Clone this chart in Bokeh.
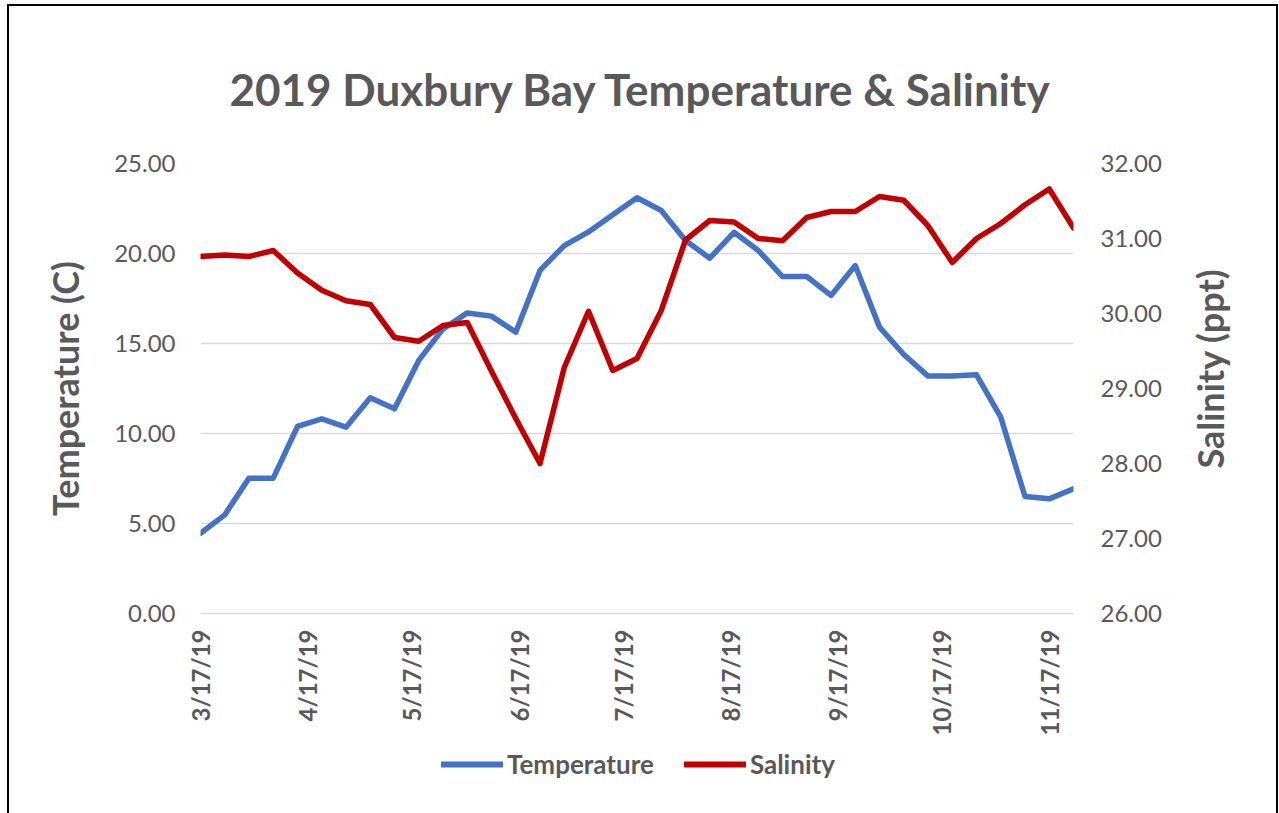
import math
import pandas as pd
from bokeh.plotting import figure
from bokeh.layouts import row, column
from bokeh.models import (LinearAxis, Range1d, FixedTicker, CustomJSTickFormatter,
                          NumeralTickFormatter, Legend, ColumnDataSource, Title)
from bokeh.embed import file_html
from bokeh.resources import INLINE

dates = ["2019-03-17", "2019-03-24", "2019-03-31", "2019-04-07", "2019-04-14", "2019-04-21",
         "2019-04-28", "2019-05-05", "2019-05-12", "2019-05-19", "2019-05-26", "2019-06-02",
         "2019-06-09", "2019-06-16", "2019-06-23", "2019-06-30", "2019-07-07", "2019-07-14",
         "2019-07-21", "2019-07-28", "2019-08-04", "2019-08-11", "2019-08-18", "2019-08-25",
         "2019-09-01", "2019-09-08", "2019-09-15", "2019-09-22", "2019-09-29", "2019-10-06",
         "2019-10-13", "2019-10-20", "2019-10-27", "2019-11-03", "2019-11-10", "2019-11-17",
         "2019-11-24"]

temperature = [4.46, 5.48, 7.52, 7.52, 10.39, 10.81, 10.35, 11.98, 11.37, 14.06, 15.81, 16.70,
               16.52, 15.63, 19.06, 20.44, 21.20, 22.15, 23.10, 22.39, 20.72, 19.74, 21.18, 20.17,
               18.72, 18.72, 17.67, 19.33, 15.91, 14.39, 13.19, 13.19, 13.26, 10.91, 6.50, 6.37,
               6.93]

salinity = [30.76, 30.78, 30.76, 30.84, 30.54, 30.31, 30.17, 30.12, 29.68, 29.63, 29.84, 29.88,
            29.23, 28.60, 28.00, 29.28, 30.03, 29.24, 29.40, 30.04, 30.98, 31.24, 31.22, 31.00,
            30.97, 31.28, 31.36, 31.36, 31.56, 31.51, 31.17, 30.68, 31.00, 31.20, 31.45, 31.66,
            31.14]

date_ticks = ["2019-03-17", "2019-04-17", "2019-05-17", "2019-06-17", "2019-07-17",
              "2019-08-17", "2019-09-17", "2019-10-17", "2019-11-17"]
temp_ticks = [0, 5, 10, 15, 20, 25]
sal_ticks = [26, 27, 28, 29, 30, 31, 32]

TEXT = "#595959"
FONT = "Lato"
BLUE = "#4472C4"
RED = "#C00000"

x = pd.to_datetime(dates)
src = ColumnDataSource(dict(x=x, t=temperature, s=salinity))

# ---------------- main chart ----------------
p = figure(width=1171, height=740, x_axis_type="datetime", output_backend="svg",
           toolbar_location=None,
           x_range=Range1d(x[0], x[-1]), y_range=Range1d(temp_ticks[0], temp_ticks[-1]),
           min_border_left=191, min_border_right=107, min_border_top=157,
           min_border_bottom=133)
p.extra_y_ranges = {"sal": Range1d(sal_ticks[0], sal_ticks[-1])}
p.outline_line_color = None
p.background_fill_color = "white"
p.border_fill_color = "white"

p.xgrid.visible = False
p.ygrid.grid_line_color = "#D9D9D9"
p.ygrid.grid_line_width = 1.5
p.ygrid.ticker = FixedTicker(ticks=temp_ticks)

p.title.text = "2019 Duxbury Bay Temperature & Salinity"
p.title.align = "left"
p.title.offset = 29
p.title.text_font = FONT
p.title.text_font_size = "44px"
p.title.text_font_style = "bold"
p.title.text_color = TEXT
p.title.standoff = 97

ya = p.yaxis[0]
ya.ticker = FixedTicker(ticks=temp_ticks)
ya.formatter = NumeralTickFormatter(format="0.00")
ya.axis_label = "Temperature (C)"

ra = LinearAxis(y_range_name="sal", ticker=FixedTicker(ticks=sal_ticks),
                formatter=NumeralTickFormatter(format="0.00"))
p.add_layout(ra, "right")

for ax in (ya, ra):
    ax.axis_line_color = None
    ax.major_tick_line_color = None
    ax.minor_tick_line_color = None
    ax.major_label_text_font = FONT
    ax.major_label_text_font_size = "24px"
    ax.major_label_text_color = TEXT
ya.major_label_standoff = 19
ra.major_label_standoff = 21
ya.axis_label_text_font = FONT
ya.axis_label_text_font_size = "36px"
ya.axis_label_text_font_style = "bold"
ya.axis_label_text_color = TEXT
ya.axis_label_standoff = 24

xa = p.xaxis[0]
xa.ticker = FixedTicker(ticks=[pd.Timestamp(d).value // 10**6 for d in date_ticks])
xa.formatter = CustomJSTickFormatter(code="""
const d = new Date(tick);
return (d.getUTCMonth() + 1) + '/' + d.getUTCDate() + '/' + String(d.getUTCFullYear()).slice(2);
""")
xa.major_label_orientation = math.pi / 2
xa.axis_line_color = "#D9D9D9"
xa.axis_line_width = 1.5
xa.major_tick_line_color = None
xa.minor_tick_line_color = None
xa.major_label_text_font = FONT
xa.major_label_text_font_size = "24px"
xa.major_label_text_font_style = "bold"
xa.major_label_text_color = TEXT
xa.major_label_standoff = 10

r1 = p.line("x", "t", source=src, line_color=BLUE, line_width=5.5,
            line_join="round", line_cap="round")
r2 = p.line("x", "s", source=src, y_range_name="sal", line_color=RED, line_width=5.5,
            line_join="round", line_cap="round")

# ---------------- right axis title (reads bottom to top) ----------------
rt = figure(width=96, height=740, output_backend="svg", toolbar_location=None,
            x_axis_location=None, y_axis_location=None,
            min_border_left=49, min_border_right=0, min_border_top=157,
            min_border_bottom=133)
rt.outline_line_color = None
rt.grid.visible = False
rt.border_fill_color = "white"
rt.background_fill_color = "white"
rt.add_layout(Title(text="Salinity (ppt)", align="left", offset=145, text_font=FONT,
                    text_font_size="36px", text_font_style="bold", text_color=TEXT,
                    standoff=10), "left")

# ---------------- legend strip ----------------
# the same series are attached here only to carry the legend swatches; the y range is
# set far away from the data so that nothing but the legend is visible in this strip
q = figure(width=1267, height=67, output_backend="svg", toolbar_location=None,
           x_axis_location=None, y_axis_location=None, min_border=0,
           x_axis_type="datetime", x_range=Range1d(x[0], x[-1]),
           y_range=Range1d(1000, 1001))
q.outline_line_color = None
q.grid.visible = False
q.border_fill_color = "white"
q.background_fill_color = "white"
l1 = q.line("x", "t", source=src, line_color=BLUE, line_width=6, line_cap="round")
l2 = q.line("x", "s", source=src, line_color=RED, line_width=6, line_cap="round")
legend = Legend(items=[("Temperature", [l1]), ("Salinity", [l2])], orientation="horizontal",
                location=(432, 33), glyph_width=62, glyph_height=20, label_standoff=4,
                spacing=30, padding=0, margin=0, border_line_color=None,
                background_fill_alpha=0,
                label_text_font=FONT, label_text_font_size="26px",
                label_text_font_style="bold", label_text_color=TEXT)
q.add_layout(legend, "center")

page = column(row(p, rt, spacing=0), q, spacing=0,
              styles={"margin-left": "7px", "margin-top": "4px",
                      "border-left": "2px solid #000", "border-top": "2px solid #000",
                      "border-right": "2px solid #000"})

open("out.html", "w").write(file_html(page, INLINE))
